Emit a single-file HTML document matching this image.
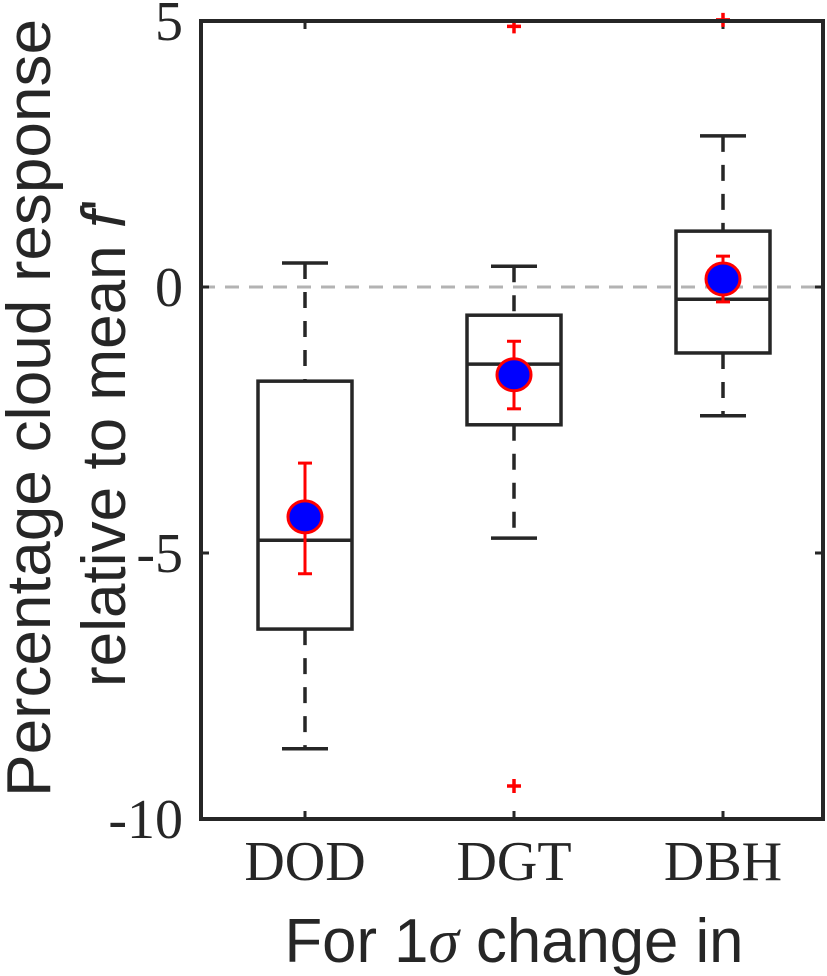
<!DOCTYPE html>
<html><head><meta charset="utf-8"><style>
html,body{margin:0;padding:0;background:#fff;}
svg{display:block;}
.tick{font-family:"Liberation Serif",serif;font-size:56px;fill:#262626;}
.lab{font-family:"Liberation Sans",sans-serif;font-size:62px;fill:#262626;}
</style></head><body>
<svg id="chart" width="827" height="976" viewBox="0 0 827 976" xmlns="http://www.w3.org/2000/svg">
<rect x="0" y="0" width="827" height="976" fill="#fff"/>
<g id="marks"></g>
<text class="lab" transform="translate(50,408) rotate(-90)" text-anchor="middle" textLength="778" lengthAdjust="spacingAndGlyphs">Percentage cloud response</text>
<text class="lab" transform="translate(125,443) rotate(-90)" text-anchor="middle" textLength="488" lengthAdjust="spacingAndGlyphs">relative to mean <tspan font-style="italic">f</tspan>'</text>
<text class="lab" x="514" y="962" text-anchor="middle" textLength="459" lengthAdjust="spacingAndGlyphs">For 1<tspan font-family="Liberation Serif" font-style="italic">σ</tspan> change in</text>
</svg>
<script>
const categories = ["DOD","DGT","DBH"];
const whiskerHigh = [0.45, 0.39, 2.84];
const q3 = [-1.77, -0.53, 1.05];
const medians = [-4.76, -1.45, -0.23];
const q1 = [-6.43, -2.59, -1.24];
const whiskerLow = [-8.68, -4.72, -2.42];
const means = [-4.32, -1.65, 0.15];
const errHigh = [-3.31, -1.02, 0.58];
const errLow = [-5.39, -2.29, -0.28];
const outlierCat = [1, 1, 2];
const outlierVal = [4.9, -9.38, 5.02];
const yTicks = [5, 0, -5, -10];
const yTickLabels = ["5", "0", "-5", "-10"];

const L=201, R=823, T=21, B=819, yMin=-10, yMax=5;
const y = v => B - (v - yMin) / (yMax - yMin) * (B - T);
const x = i => 305 + i * 209;
const NS="http://www.w3.org/2000/svg";
const g=document.getElementById('marks');
function mk(tag, attrs){const e=document.createElementNS(NS,tag);for(const k in attrs)e.setAttribute(k,attrs[k]);g.appendChild(e);return e;}

let e=mk('line',{x1:L,x2:R,y1:y(0),y2:y(0),stroke:'#b3b3b3','stroke-width':3,'stroke-dasharray':'14 10'});



categories.forEach((c,i)=>{
  const cx=x(i), hw=47, cw=23;
  let w1=mk('line',{x1:cx,x2:cx,y1:y(whiskerHigh[i]),y2:y(q3[i]),stroke:'#262626','stroke-width':3.5,'stroke-dasharray':'16 13'});
  
  
  let w2=mk('line',{x1:cx,x2:cx,y1:y(q1[i]),y2:y(whiskerLow[i]),stroke:'#262626','stroke-width':3.5,'stroke-dasharray':'16 13'});
  
  
  let c1=mk('line',{x1:cx-cw,x2:cx+cw,y1:y(whiskerHigh[i]),y2:y(whiskerHigh[i]),stroke:'#262626','stroke-width':3.5});
  
  
  let c2=mk('line',{x1:cx-cw,x2:cx+cw,y1:y(whiskerLow[i]),y2:y(whiskerLow[i]),stroke:'#262626','stroke-width':3.5});
  
  
  let b=mk('rect',{x:cx-hw,y:y(q3[i]),width:2*hw,height:y(q1[i])-y(q3[i]),fill:'none',stroke:'#262626','stroke-width':3.5});
  
  
  let m=mk('line',{x1:cx-hw,x2:cx+hw,y1:y(medians[i]),y2:y(medians[i]),stroke:'#262626','stroke-width':3.5});
  
  
  let er=mk('line',{x1:cx,x2:cx,y1:y(errHigh[i]),y2:y(errLow[i]),stroke:'#ff0000','stroke-width':3});
  
  
  [errHigh[i],errLow[i]].forEach(v=>{
    let ec=mk('line',{x1:cx-7,x2:cx+7,y1:y(v),y2:y(v),stroke:'#ff0000','stroke-width':3});
    
    
  });
  let p=mk('ellipse',{cx:cx,cy:y(means[i]),rx:17,ry:16,fill:'#0000ff',stroke:'#ff0000','stroke-width':3});
  
  
  let t=mk('text',{x:cx,y:880,'text-anchor':'middle','class':'tick'});
  t.textContent=c;
  
  
  let tk=mk('line',{x1:cx,x2:cx,y1:B,y2:B-8,stroke:'#262626','stroke-width':3});
  
  
  let tt=mk('line',{x1:cx,x2:cx,y1:T,y2:T+8,stroke:'#262626','stroke-width':3});
  
  
});

outlierVal.forEach((v,k)=>{
  const cx=x(outlierCat[k]), cy=y(v);
  let o=mk('path',{d:`M${cx-7},${cy}H${cx+7}M${cx},${cy-7}V${cy+7}`,stroke:'#ff0000','stroke-width':3.5});
  
  
});

yTicks.forEach((v,k)=>{
  let tl=mk('line',{x1:L,x2:L+8,y1:y(v),y2:y(v),stroke:'#262626','stroke-width':3});
  
  
  let tr=mk('line',{x1:R-8,x2:R,y1:y(v),y2:y(v),stroke:'#262626','stroke-width':3});
  
  
  let t=mk('text',{x:183,y:y(v)+19,'text-anchor':'end','class':'tick'});
  t.textContent=yTickLabels[k];
  
  
});

let fr=mk('rect',{x:L,y:T,width:R-L,height:B-T,fill:'none',stroke:'#262626','stroke-width':4});


</script>
</body></html>
